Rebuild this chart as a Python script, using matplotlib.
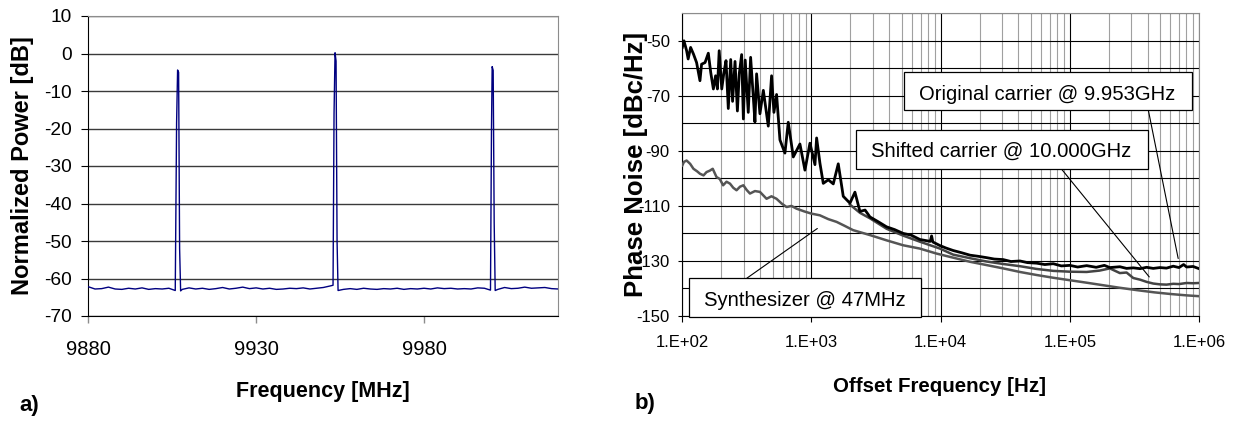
"""Two-panel figure: a) optical spectrum, b) phase noise comparison"""
import numpy as np
import matplotlib
matplotlib.use('Agg')
import matplotlib.pyplot as plt
from matplotlib.patches import Rectangle

plt.rcParams['font.family'] = ['Liberation Sans', 'DejaVu Sans']
plt.rcParams['axes.unicode_minus'] = False

W, H = 1234, 421
fig = plt.figure(figsize=(W / 100, H / 100), dpi=100)
fig.patch.set_facecolor('white')

NAVY = '#000080'
GRIDC = '#3a3a3a'
SPINE_GRAY = '#8c8c8c'

# ---------------------------------------------------------------- data a)
floor_freq = np.arange(9880, 10021, 2)
floor_db = [-62.2, -62.8, -62.7, -62.3, -62.8, -62.9, -62.6, -62.8, -62.5, -62.9,
            -62.7, -62.8, -62.6, -62.9, -62.9, -62.5, -62.8, -62.6, -62.9, -62.7,
            -62.4, -62.8, -62.6, -62.3, -62.7, -62.5, -62.8, -62.6, -62.9, -62.8,
            -62.6, -62.7, -62.5, -62.8, -62.6, -62.4, -62.0, -62.0, -62.9, -62.7,
            -62.9, -62.6, -62.8, -62.9, -62.7, -62.8, -62.6, -62.9, -62.7, -62.8,
            -62.6, -62.8, -62.5, -62.7, -62.6, -62.8, -62.7, -62.8, -62.5, -62.6,
            -62.6, -62.9, -62.4, -62.7, -62.6, -62.3, -62.6, -62.5, -62.4, -62.7,
            -62.8]
peak_centers = [9906.8, 9953.5, 10000.3]
peak_freq = [9905.9, 9906.3, 9906.6, 9906.9, 9907.2, 9907.5,
             9952.9, 9953.2, 9953.5, 9953.8, 9954.1, 9954.4,
             9999.8, 10000.1, 10000.3, 10000.6, 10000.9, 10001.2]
peak_db = [-63.2, -18.5, -4.4, -5.0, -52.0, -63.3,
           -61.8, -16.0, 0.2, -2.0, -50.0, -63.2,
           -63.1, -20.0, -3.5, -4.5, -45.0, -63.2]

# ---------------------------------------------------------------- data b)
orig_freq = [100, 103, 108, 111, 116, 122, 129, 137, 141, 150, 159, 166, 174, 181,
             187, 193, 202, 210, 218, 227, 237, 245, 256, 267, 276, 288, 297, 307,
             324, 338, 354, 365, 376, 399, 424, 463, 491, 512, 537, 570, 623, 661,
             723, 814, 890, 973, 1064, 1096, 1163, 1234, 1350, 1475, 1612, 1762,
             1985, 2170, 2372, 2600, 2835, 3300, 3814, 4400, 5134, 5900, 6909,
             7700, 8300, 8510, 8700, 9870, 11000, 12500, 14500, 16900, 19500,
             22700, 26000, 30500, 35000, 41100, 47000, 55300, 64000, 74400, 86000,
             100000, 115000, 135000, 160000, 185000, 204000, 244000, 275000,
             310000, 350000, 393000, 442000, 498000, 560000, 632000, 700000,
             760000, 802000, 900000, 1000000]
orig_db = [-52.4, -50.0, -53.6, -56.6, -52.4, -54.8, -57.9, -64.5, -58.5, -57.9,
           -54.5, -61.5, -67.5, -62.7, -67.5, -53.6, -67.5, -61.5, -57.2, -74.6,
           -56.8, -72.0, -57.5, -75.5, -62.0, -55.0, -78.4, -57.0, -76.0, -56.0,
           -70.0, -79.5, -62.0, -76.5, -68.0, -81.0, -62.7, -76.0, -69.5, -86.0,
           -90.8, -79.6, -92.2, -87.5, -97.0, -87.2, -95.0, -85.3, -94.5, -101.8,
           -100.5, -102.0, -94.7, -106.5, -109.0, -105.0, -112.0, -111.5, -114.0,
           -115.8, -117.6, -118.6, -120.0, -120.6, -122.2, -122.6, -122.9, -120.9,
           -123.1, -124.4, -125.3, -126.2, -127.0, -127.9, -128.3, -128.8, -129.3,
           -129.5, -130.2, -130.0, -130.6, -130.8, -131.3, -131.0, -131.8, -131.6,
           -132.2, -131.7, -132.3, -131.6, -132.4, -132.1, -132.7, -132.5, -132.8,
           -132.3, -132.7, -132.4, -132.6, -131.9, -132.4, -131.3, -132.2, -132.0,
           -132.8]

shift_freq = [1985, 2372, 2835, 3814, 5134, 6909, 9870, 12500, 16900, 22700, 30500,
              41100, 55300, 74400, 100000, 135000, 170000, 204000, 244000, 275000,
              310000, 350000, 393000, 442000, 498000, 560000, 632000, 700000,
              802000, 900000, 1000000]
shift_db = [-109.5, -112.5, -114.5, -118.3, -120.8, -123.0, -125.5, -127.7, -129.0,
            -130.2, -131.1, -131.9, -132.9, -133.6, -133.9, -134.0, -133.5, -132.7,
            -134.4, -134.2, -136.2, -136.8, -137.6, -138.2, -138.5, -138.6, -138.3,
            -138.4, -138.0, -138.1, -138.0]

synth_freq = [100, 103, 108, 115, 122, 130, 137, 146, 154, 163, 172, 184, 195, 207,
              220, 234, 248, 263, 280, 297, 315, 334, 365, 399, 449, 490, 536, 590,
              642, 700, 767, 880, 1000, 1160, 1350, 1565, 1800, 2100, 2840, 3810,
              5130, 6900, 9270, 12000, 16900, 22700, 30500, 41100, 55300, 74400,
              100000, 135000, 180000, 240000, 330000, 450000, 600000, 800000, 1000000]
synth_db = [-95.3, -94.0, -93.5, -94.7, -96.5, -97.4, -98.3, -98.9, -97.7, -97.2,
            -96.5, -99.5, -100.2, -102.5, -101.2, -101.9, -103.4, -104.3, -103.0,
            -102.5, -104.2, -105.5, -104.6, -104.9, -107.4, -106.5, -107.4, -109.2,
            -110.4, -110.0, -111.0, -112.0, -112.8, -113.4, -114.8, -115.8, -117.2,
            -118.8, -120.6, -122.5, -124.3, -125.5, -127.3, -128.6, -130.3, -131.5,
            -132.7, -134.0, -135.1, -136.1, -137.0, -137.9, -138.8, -139.7, -140.6,
            -141.4, -142.0, -142.5, -142.8]

x_labels_b = ['1.E+02', '1.E+03', '1.E+04', '1.E+05', '1.E+06']
x_ticks_b = [1e2, 1e3, 1e4, 1e5, 1e6]


def px(x, y):
    """pixel (origin top-left) -> figure fraction"""
    return x / W, 1 - y / H


# ================================================================ panel a
ax1 = fig.add_axes([88.3 / W, 1 - 316 / H, 470 / W, 300 / H])
keep = np.ones(len(floor_freq), dtype=bool)
for c in peak_centers:
    keep &= np.abs(floor_freq - c) > 1.2
fa = np.concatenate([floor_freq[keep], peak_freq])
pa = np.concatenate([np.array(floor_db)[keep], peak_db])
order = np.argsort(fa)
ax1.plot(fa[order], pa[order], color=NAVY, lw=1.0, zorder=3)
ax1.set_xlim(9880, 10020)
ax1.set_ylim(-70, 10)
ax1.set_xticks([9880, 9930, 9980])
ax1.set_yticks(np.arange(-70, 11, 10))
ax1.yaxis.grid(True, color=GRIDC, lw=1.0)
ax1.set_axisbelow(True)
for s in ['top', 'right']:
    ax1.spines[s].set_color(SPINE_GRAY)
for s in ['left', 'bottom']:
    ax1.spines[s].set_color('black')
ax1.tick_params(axis='y', direction='out', length=5, width=0.8, pad=7,
                labelsize=13.8, colors='black')
ax1.tick_params(axis='x', direction='out', length=5, width=1.0, pad=12,
                labelsize=14.5, color=SPINE_GRAY, labelcolor='black')

fig.text(*px(23, 166), 'Normalized Power [dB]', rotation=90, ha='center',
         va='center', fontsize=17, fontweight='bold')
fig.text(*px(323.3, 392), 'Frequency [MHz]', ha='center', va='center',
         fontsize=15.5, fontweight='bold')
fig.text(*px(29, 406), 'a)', ha='center', va='center', fontsize=16,
         fontweight='bold')

# ================================================================ panel b
ax2 = fig.add_axes([682.3 / W, 1 - 316 / H, 516.7 / W, 302.7 / H])
ax2.semilogx(synth_freq, synth_db, color='#555555', lw=1.8, zorder=3)
ax2.semilogx(shift_freq, shift_db, color='#444444', lw=1.8, zorder=4)
ax2.semilogx(orig_freq, orig_db, color='black', lw=2.0, zorder=5)
ax2.set_xlim(1e2, 1e6)
ax2.set_ylim(-150, -40)
ax2.set_xticks(x_ticks_b)
ax2.set_xticklabels(x_labels_b)
ax2.set_yticks(np.arange(-150, -49, 20))
ax2.set_yticks(np.arange(-140, -39, 20), minor=True)
ax2.grid(True, which='major', axis='both', color='black', lw=0.8)
ax2.yaxis.grid(True, which='minor', color='black', lw=0.8)
ax2.xaxis.grid(True, which='minor', color='#a0a0a0', lw=0.8)
ax2.set_axisbelow(True)
ax2.tick_params(which='minor', length=0)
ax2.tick_params(axis='y', which='major', direction='out', length=3, pad=6,
                labelsize=12)
ax2.tick_params(axis='x', which='major', direction='out', length=4, pad=10,
                labelsize=12)
for s in ['top', 'right']:
    ax2.spines[s].set_color(SPINE_GRAY)

fig.text(*px(636, 164), 'Phase Noise [dBc/Hz]', rotation=90, ha='center',
         va='center', fontsize=18.5, fontweight='bold')
fig.text(*px(939.2, 387), 'Offset Frequency [Hz]', ha='center', va='center',
         fontsize=14.8, fontweight='bold')
fig.text(*px(645.5, 404), 'b)', ha='center', va='center', fontsize=16,
         fontweight='bold')

# callout boxes: (label, box x0, x1, y0, y1 [px], text x, baseline y, line start, target)
callouts = [
    ('Original carrier @ 9.953GHz', 904, 1191.7, 71.7, 110, 1046.7, 100,
     (1148.3, 110), (6.9e5, -129.1)),
    ('Shifted carrier @ 10.000GHz', 856, 1147.7, 130, 169.3, 1000.8, 156.7,
     (1061.7, 169.3), (4.12e5, -135.8)),
    ('Synthesizer @ 47MHz', 689.3, 921, 278.3, 316.7, 805, 306,
     (746.7, 278.3), (1110, -118.2)),
]
for label, x0, x1, y0, y1, tx, ty, start, target in callouts:
    ax2.annotate('', xy=target, xycoords='data', xytext=px(*start),
                 textcoords='figure fraction',
                 arrowprops=dict(arrowstyle='-', color='black', lw=0.8,
                                 shrinkA=0, shrinkB=0), zorder=6)
    rect = Rectangle((x0 / W, 1 - y1 / H), (x1 - x0) / W, (y1 - y0) / H,
                     transform=fig.transFigure, facecolor='white',
                     edgecolor='black', lw=0.9, zorder=10)
    fig.add_artist(rect)
    fig.text(*px(tx, ty), label, ha='center', va='baseline', fontsize=14.6,
             zorder=11)

plt.savefig('out.png', dpi=100, facecolor='white')
